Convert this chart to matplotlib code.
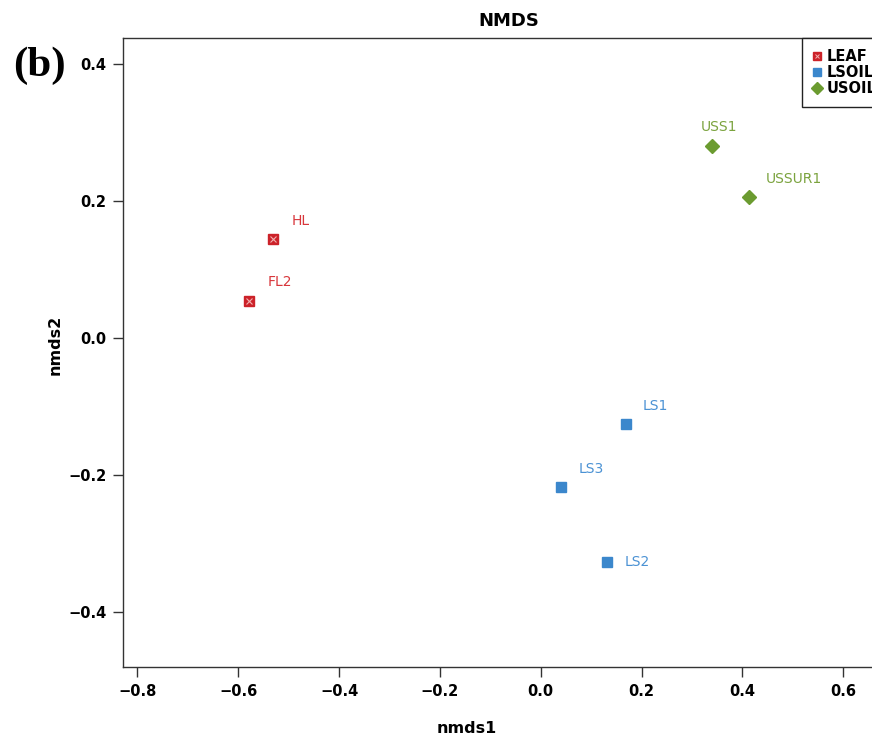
import matplotlib
matplotlib.use("Agg")
import matplotlib.pyplot as plt
from matplotlib.lines import Line2D

# NMDS scores per sample
samples = ["HL", "FL2", "LS1", "LS3", "LS2", "USS1", "USSUR1"]
groups = ["LEAF", "LEAF", "LSOIL", "LSOIL", "LSOIL", "USOIL", "USOIL"]
nmds1 = [-0.531, -0.578, 0.169, 0.040, 0.131, 0.340, 0.413]
nmds2 = [0.145, 0.054, -0.125, -0.217, -0.326, 0.280, 0.205]

group_order = ["LEAF", "LSOIL", "USOIL"]
x_ticks = [-0.8, -0.6, -0.4, -0.2, 0.0, 0.2, 0.4, 0.6]
y_ticks = [-0.4, -0.2, 0.0, 0.2, 0.4]

# styling
marker_color = {"LEAF": "#cc2229", "LSOIL": "#3b87cc", "USOIL": "#6b9b30"}
text_color = {"LEAF": "#d8363b", "LSOIL": "#4b92d4", "USOIL": "#7ba33e"}
label_offset = {  # pixels (dx, dy)
    "HL": (28, 18), "FL2": (31, 19), "LS1": (29, 18), "LS3": (30, 18),
    "LS2": (30, 0), "USS1": (7, 19), "USSUR1": (45, 18),
}

W, H = 872, 741
fig = plt.figure(figsize=(W / 100, H / 100), dpi=100)
ax_l, ax_r, ax_t, ax_b = 123.3, 895.0, 38.3, 667.3
ax = fig.add_axes([ax_l / W, 1 - ax_b / H, (ax_r - ax_l) / W, (ax_b - ax_t) / H])

def draw_marker(axis, x, y, grp, scale=1.0):
    if grp == "LEAF":
        axis.plot(x, y, marker="s", ms=7.5 * scale, mfc=marker_color[grp],
                  mec=marker_color[grp], ls="none", zorder=3)
        axis.plot(x, y, marker="x", ms=4 * scale, mec="#f2b0b0", mew=0.8,
                  ls="none", zorder=4)
    elif grp == "LSOIL":
        axis.plot(x, y, marker="s", ms=7.5 * scale, mfc=marker_color[grp],
                  mec=marker_color[grp], ls="none", zorder=3)
    else:
        axis.plot(x, y, marker="D", ms=7.5 * scale, mfc=marker_color[grp],
                  mec=marker_color[grp], ls="none", zorder=3)

for s, g, x, y in zip(samples, groups, nmds1, nmds2):
    draw_marker(ax, x, y, g)
    dx, dy = label_offset[s]
    ax.annotate(s, (x, y), xytext=(dx, dy), textcoords="offset pixels",
                ha="center", va="center", fontsize=10, color=text_color[g])

ax.set_xlim(-0.828, 0.7026)
ax.set_ylim(-0.48, 0.437)
ax.set_xticks(x_ticks)
ax.set_yticks(y_ticks)
ax.set_xticklabels([f"{v:.1f}".replace("-", "\u2212") for v in x_ticks],
                   fontweight="bold", fontsize=10.5)
ax.set_yticklabels([f"{v:.1f}".replace("-", "\u2212") for v in y_ticks],
                   fontweight="bold", fontsize=10.5)
ax.tick_params(direction="out", length=7, width=1, color="#333333", pad=5)
for sp in ax.spines.values():
    sp.set_color("#333333")
    sp.set_linewidth(1)

ax.set_title("NMDS", fontweight="bold", fontsize=13, pad=9)
ax.set_xlabel("nmds1", fontweight="bold", fontsize=11.5)
ax.set_ylabel("nmds2", fontweight="bold", fontsize=11.5)
ax.xaxis.set_label_coords(0.4456, -0.086)
ax.yaxis.set_label_coords(-0.078, 0.512)

# legend
handles = []
for g in group_order:
    if g == "LEAF":
        h = (Line2D([], [], marker="s", ms=6, mfc=marker_color[g], mec=marker_color[g], ls="none"),
             Line2D([], [], marker="x", ms=3.2, mec="#f2b0b0", mew=0.7, ls="none"))
    elif g == "LSOIL":
        h = Line2D([], [], marker="s", ms=6, mfc=marker_color[g], mec=marker_color[g], ls="none")
    else:
        h = Line2D([], [], marker="D", ms=6, mfc=marker_color[g], mec=marker_color[g], ls="none")
    handles.append(h)

leg = ax.legend(handles, group_order, loc="upper left",
                bbox_to_anchor=((802 - ax_l) / (ax_r - ax_l), 1.0),
                borderaxespad=0, fancybox=False, framealpha=1,
                edgecolor="#222222", prop={"weight": "bold", "size": 10.5},
                handlelength=0.55, handletextpad=0.4, labelspacing=0.05,
                borderpad=0.75)
leg.get_frame().set_linewidth(1)

fig.text(39 / W, 1 - 66 / H, "(b)", family="Liberation Serif", fontweight="bold",
         fontsize=31, ha="center", va="center")

fig.savefig("out.png", dpi=100)
